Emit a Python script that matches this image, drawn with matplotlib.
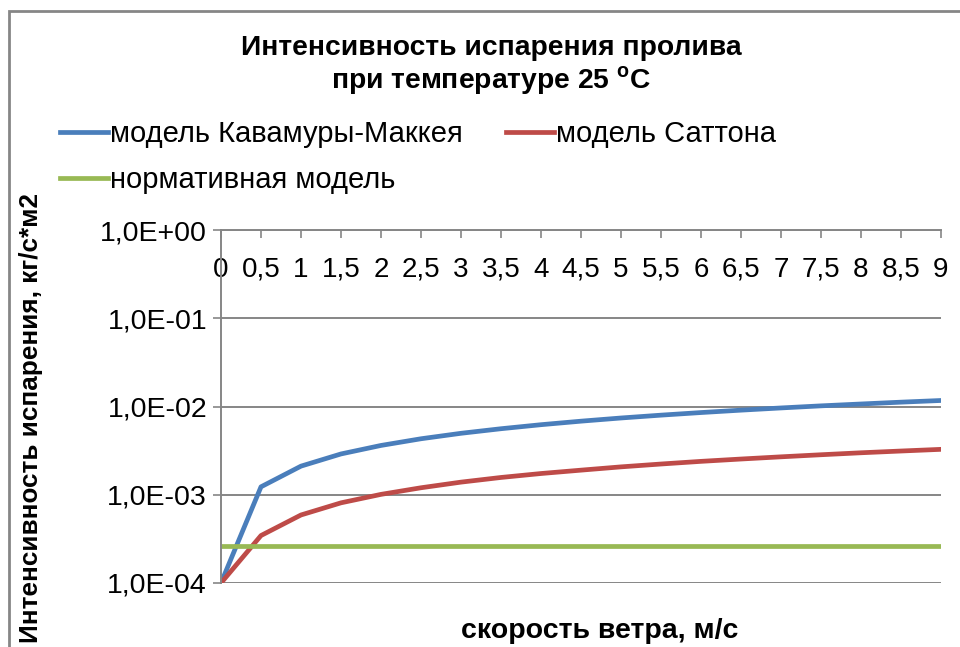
import matplotlib.pyplot as plt
from matplotlib.patches import Rectangle
from matplotlib.ticker import FixedLocator, FuncFormatter

plt.rcParams["font.family"] = ["Liberation Sans", "DejaVu Sans"]

# wind speed, m/s
speed = [0, 0.5, 1, 1.5, 2, 2.5, 3, 3.5, 4, 4.5, 5, 5.5, 6, 6.5, 7, 7.5, 8, 8.5, 9]
speed_labels = ["0", "0,5", "1", "1,5", "2", "2,5", "3", "3,5", "4", "4,5",
                "5", "5,5", "6", "6,5", "7", "7,5", "8", "8,5", "9"]

# evaporation rate, kg/(s*m2)
kawamura_mackay = [1.0e-4, 1.23e-3, 2.11e-3, 2.9e-3, 3.62e-3, 4.31e-3, 4.97e-3,
                   5.6e-3, 6.22e-3, 6.82e-3, 7.41e-3, 7.98e-3, 8.54e-3, 9.09e-3,
                   9.63e-3, 1.017e-2, 1.068e-2, 1.12e-2, 1.17e-2]
sutton = [1.0e-4, 3.45e-4, 5.9e-4, 8.1e-4, 1.01e-3, 1.2e-3, 1.39e-3, 1.57e-3,
          1.74e-3, 1.9e-3, 2.07e-3, 2.23e-3, 2.39e-3, 2.54e-3, 2.69e-3, 2.84e-3,
          2.99e-3, 3.13e-3, 3.27e-3]
normative = [2.6e-4] * 19

y_ticks = [1e-4, 1e-3, 1e-2, 1e-1, 1e0]

BLUE = "#4A7EBB"
RED = "#BE4B48"
GREEN = "#98B954"
GRID = "#868686"

fig = plt.figure(figsize=(9.6, 6.47), dpi=100)

# chart border (the picture is cropped on the right and bottom)
fig.patches.append(Rectangle((9 / 960, -0.1), 1.2, 1 - 11 / 647 + 0.1,
                             transform=fig.transFigure, fill=False,
                             edgecolor=GRID, linewidth=2))

ax = fig.add_axes([221 / 960, 1 - 583 / 647, 720 / 960, 353 / 647])

lw = 3.4
ax.plot(speed, kawamura_mackay, color=BLUE, lw=lw, zorder=3,
        label="модель Кавамуры-Маккея", solid_joinstyle="round")
ax.plot(speed, sutton, color=RED, lw=lw, zorder=3,
        label="модель Саттона", solid_joinstyle="round")
ax.plot(speed, normative, color=GREEN, lw=lw, zorder=3,
        label="нормативная модель")

ax.set_yscale("log")
ax.set_ylim(1e-4, 1e0)
ax.set_xlim(0, 9)

ax.yaxis.set_major_locator(FixedLocator(y_ticks))
ax.yaxis.set_minor_locator(FixedLocator([]))
ax.yaxis.set_major_formatter(
    FuncFormatter(lambda v, pos: f"{v:.1E}".replace(".", ",")))
ax.grid(True, axis="y", color=GRID, linewidth=1.4)
ax.set_axisbelow(True)

ax.set_xticks(speed)
ax.set_xticklabels(speed_labels)
ax.xaxis.tick_top()
ax.tick_params(axis="x", direction="in", length=6, width=1.2, color=GRID,
               labelsize=20, pad=-38)
ax.tick_params(axis="y", direction="out", length=6, width=1.2, color=GRID,
               labelsize=20.5, pad=4)

for side in ("bottom", "right"):
    ax.spines[side].set_visible(False)
for side in ("left", "top"):
    ax.spines[side].set_color(GRID)
    ax.spines[side].set_linewidth(1.4)
    ax.spines[side].set_zorder(4)

# title
fig.text(491 / 960, 1 - 48 / 647, "Интенсивность испарения пролива",
         ha="center", va="center", fontsize=20.3, fontweight="bold")
fig.text(491 / 960, 1 - 81 / 647,
         r"при температуре 25 $^{\mathregular{o}}$С",
         ha="center", va="center", fontsize=20.3, fontweight="bold")

# legend: first column blue + green, second column red
h = ax.get_lines()
order = [h[0], h[2], h[1]]
fig.legend(order, [l.get_label() for l in order],
           ncol=2, loc="upper left", bbox_to_anchor=(60 / 960, 1 - 120 / 647),
           frameon=False, fontsize=21, handlelength=1.65, handletextpad=0.08,
           columnspacing=1.45, labelspacing=0.62, borderpad=0,
           borderaxespad=0)

fig.text(600 / 960, 3 / 647, "скорость ветра, м/с", ha="center",
         va="bottom", fontsize=20.5, fontweight="bold")
fig.text(31 / 960, 1 - 418 / 647, "Интенсивность испарения, кг/с*м2",
         ha="center", va="center", rotation=90, fontsize=18.8,
         fontweight="bold")

fig.savefig("out.png", dpi=100, facecolor="white")
